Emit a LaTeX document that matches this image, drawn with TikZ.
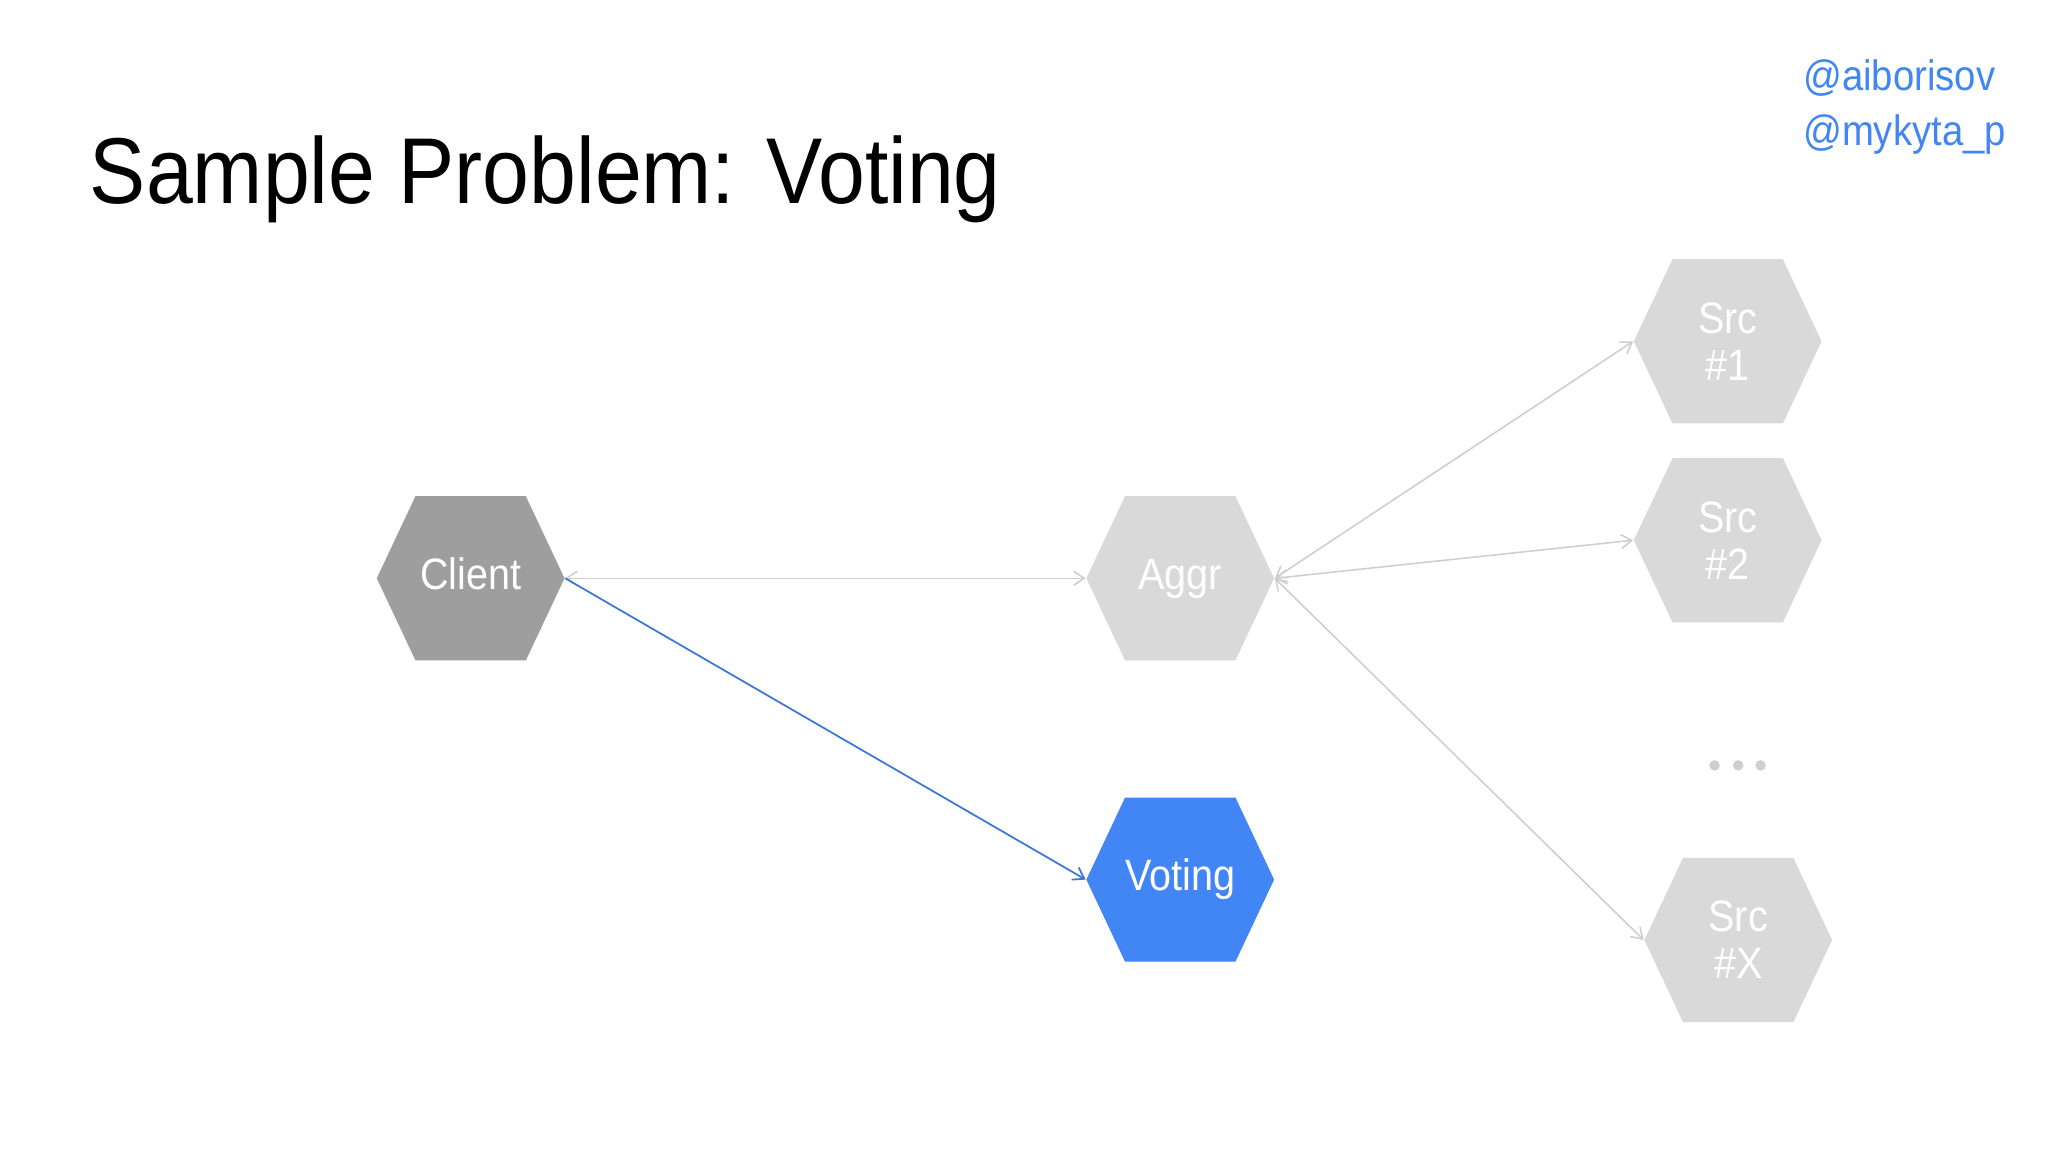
\documentclass[tikz,border=0pt]{standalone}
\usepackage{fontspec}
\setmainfont{Liberation Sans}[FakeStretch=0.9]
\usetikzlibrary{arrows.meta}
\definecolor{cdark}{HTML}{9E9E9E}
\definecolor{clight}{HTML}{D9D9D9}
\definecolor{cblue}{HTML}{4285F4}
\definecolor{cline}{HTML}{CFCFCF}
\definecolor{cbluel}{HTML}{3C78D8}
\tikzset{
  hexa/.style={minimum width=53.4pt, minimum height=46.7pt, inner sep=0pt,
    text=white, font=\fontsize{12.5}{13.4}\selectfont, align=center,
    path picture={\fill[#1]
      ([xshift=-15.7pt]path picture bounding box.north) --
      ([xshift=15.7pt]path picture bounding box.north) --
      (path picture bounding box.east) --
      ([xshift=15.7pt]path picture bounding box.south) --
      ([xshift=-15.7pt]path picture bounding box.south) --
      (path picture bounding box.west) -- cycle;}},
  oneline/.style={text height=9pt, text depth=2.7pt},
  handle/.style={anchor=base west, inner sep=0pt, text=cblue, font=\fontsize{12.1}{14}\selectfont},
  grayarrow/.style={draw=cline, line width=0.45pt, {Straight Barb[length=3pt,width=4pt]}-{Straight Barb[length=3pt,width=4pt]}},
  bluearrow/.style={draw=cbluel, line width=0.5pt, -{Straight Barb[length=3pt,width=4pt]}},
  dotc/.style={fill=cline, draw=none}
}
\begin{document}
\begin{tikzpicture}[x=0.3734pt, y=-0.3734pt]
\useasboundingbox[fill=white] (0,0) rectangle (1560,877.5);
\node[anchor=base west, inner sep=0pt, font=\fontsize{26.6}{30}\selectfont] (title) at (68,155) {Sample Problem: Voting};
\node[handle] (h1) at (1373,69) {@aiborisov};
\node[handle] (h2) at (1373,111) {@mykyta\_p};

\node[hexa=cdark, oneline] (client) at (358.5,440.5) {Client};
\node[hexa=clight, oneline] (aggr) at (899,440.5) {Aggr};
\node[hexa=cblue, oneline] (voting) at (899,670) {Voting};
\node[hexa=clight] (src1) at (1316,260) {Src\\\#1};
\node[hexa=clight] (src2) at (1316,411.5) {Src\\\#2};
\node[hexa=clight] (srcx) at (1324,716) {Src\\\#X};

\fill[dotc] (1306,583) circle (4);
\fill[dotc] (1324,583) circle (4);
\fill[dotc] (1341,583) circle (4);

\draw[grayarrow] (client.east) -- (aggr.west);
\draw[bluearrow] (client.east) -- (voting.west);
\draw[grayarrow] (aggr.east) -- (src1.west);
\draw[grayarrow] (aggr.east) -- (src2.west);
\draw[grayarrow] (aggr.east) -- (srcx.west);
\end{tikzpicture}
\end{document}
